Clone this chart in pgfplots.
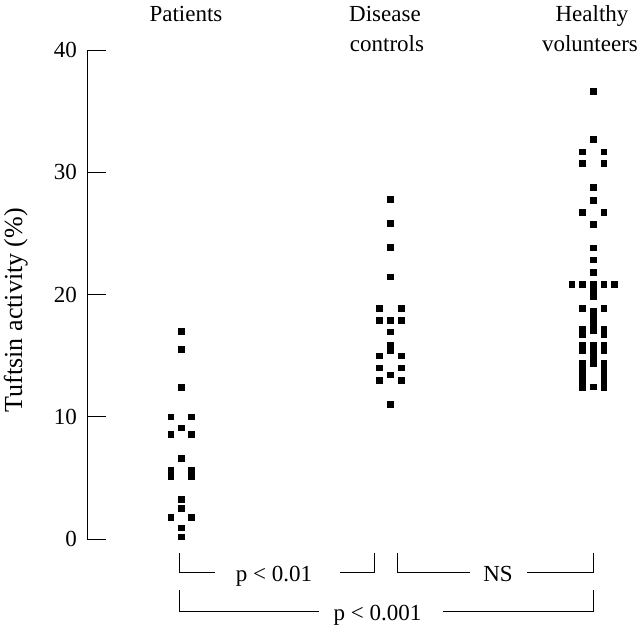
\documentclass[border=0pt]{standalone}
\usepackage{fontspec}
\setmainfont{Liberation Serif}
\usepackage{pgfplots}
\pgfplotsset{compat=1.18}
\begin{document}
\begin{tikzpicture}
\useasboundingbox (0,0) rectangle (640pt,625pt);
\begin{axis}[
  at={(87pt,86pt)}, anchor=south west,
  scale only axis, width=553pt, height=489pt,
  xmin=0.5437, xmax=3.2282, ymin=0, ymax=40,
  clip=false,
  axis x line=none,
  axis y line*=left,
  axis line style={-, line width=0.9pt},
  ytick={0,10,20,30,40},
  tick align=inside,
  major tick length=19pt,
  tick style={line width=0.9pt, black},
  /pgf/number format/assume math mode=true,
  yticklabel style={font=\fontsize{23}{27}\selectfont, anchor=east, xshift=-6.5pt},
  ylabel={Tuftsin activity (\%)},
  ylabel style={at={(axis description cs:-0.1175,0.468)}, anchor=base, font=\fontsize{26}{30}\selectfont},
]
% Patients
\addplot[only marks, mark=square*, mark size=2.8pt, black] coordinates {
(1,17.0) (1,15.55) (1,12.4) (0.95,10.0) (1.05,10.0) (1,9.1) (0.95,8.57) (1.05,8.57)
(1,6.62) (0.95,5.63) (0.95,5.1) (1.05,5.63) (1.05,5.1) (1,3.25) (1,2.54)
(0.95,1.78) (1.05,1.78) (1,0.92) (1,0.2)
};
% Disease controls
\addplot[only marks, mark=square*, mark size=2.8pt, black] coordinates {
(2.015,27.82) (2.015,25.84) (2.015,23.87) (2.015,21.46)
(1.962,18.88) (2.068,18.88) (1.962,17.91) (2.015,17.91) (2.068,17.91)
(2.015,16.96) (2.015,15.88) (2.015,15.46) (1.962,14.98) (2.068,14.98)
(1.962,14.0) (2.068,14.0) (2.015,13.44) (1.962,13.0) (2.068,13.0) (2.015,11.01)
};
% Healthy volunteers
\addplot[only marks, mark=square*, mark size=2.8pt, black] coordinates {
(3,36.65) (3,32.7) (2.948,31.68) (3.052,31.68) (2.948,30.73) (3.052,30.73)
(3,28.76) (3,27.73) (2.948,26.72) (3.052,26.72) (3,25.76) (3,23.82) (3,22.84) (3,21.83)
(2.896,20.86) (2.948,20.86) (3,20.86) (3.052,20.86) (3.104,20.86)
(3,20.37) (3,19.88) (2.948,18.87) (3.052,18.87)
(3,18.63) (3,18.12) (3,17.6) (3,17.1)
(2.948,17.2) (2.948,16.75) (3.052,17.2) (3.052,16.75)
(2.948,15.9) (2.948,15.4) (3.052,15.9) (3.052,15.4)
(3,15.9) (3,15.4) (3,14.9) (3,14.4)
(2.948,14.4) (2.948,13.9) (2.948,13.4) (2.948,12.9) (2.948,12.4)
(3.052,14.4) (3.052,13.9) (3.052,13.4) (3.052,12.9) (3.052,12.4)
(3,12.46)
};
\end{axis}
\begin{scope}[font=\fontsize{23}{27}\selectfont]
\node[anchor=base] at (186pt,603pt) {Patients};
\node[anchor=base] at (385pt,603pt) {Disease};
\node[anchor=base] at (387pt,573pt) {controls};
\node[anchor=base] at (592pt,603pt) {Healthy};
\node[anchor=base] at (590pt,573pt) {volunteers};
\draw[line width=0.9pt] (179pt,72pt) -- (179pt,53pt) -- (215pt,53pt);
\draw[line width=0.9pt] (340pt,53pt) -- (374pt,53pt) -- (374pt,72pt);
\node[anchor=base] at (274pt,44pt) {p < 0.01};
\draw[line width=0.9pt] (397pt,72pt) -- (397pt,53pt) -- (470pt,53pt);
\draw[line width=0.9pt] (527pt,53pt) -- (593pt,53pt) -- (593pt,72pt);
\node[anchor=base] at (498pt,44pt) {NS};
\draw[line width=0.9pt] (179pt,35pt) -- (179pt,14pt) -- (319pt,14pt);
\draw[line width=0.9pt] (443pt,14pt) -- (593pt,14pt) -- (593pt,35pt);
\node[anchor=base] at (377.5pt,5pt) {p < 0.001};
\end{scope}
\end{tikzpicture}
\end{document}
